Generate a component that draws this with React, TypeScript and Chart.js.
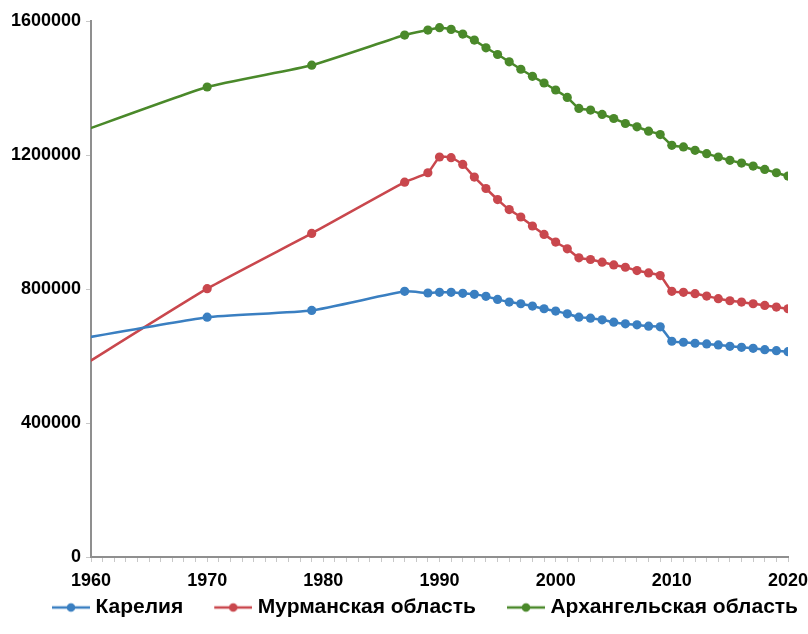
import React, { useEffect, useRef } from 'react';
import { Chart, registerables } from 'chart.js';

Chart.register(...registerables);

const years = [
  1959, 1970, 1979, 1987, 1989, 1990, 1991, 1992, 1993, 1994, 1995, 1996, 1997, 1998, 1999,
  2000, 2001, 2002, 2003, 2004, 2005, 2006, 2007, 2008, 2009, 2010, 2011, 2012, 2013, 2014,
  2015, 2016, 2017, 2018, 2019, 2020,
];

const karelia = [
  651000, 716000, 736000, 793000, 788000, 790000, 790000, 787000, 784000, 778000, 769000,
  761000, 756000, 749000, 741000, 734000, 726000, 716000, 713000, 708000, 701000, 696000,
  693000, 689000, 687000, 644000, 641000, 638000, 636000, 633000, 629000, 626000, 623000,
  619000, 616000, 613000,
];

const murmansk = [
  565000, 801000, 966000, 1119000, 1147000, 1194000, 1192000, 1172000, 1134000, 1100000,
  1067000, 1037000, 1015000, 988000, 963000, 940000, 920000, 893000, 888000, 880000, 872000,
  865000, 855000, 848000, 840000, 793000, 790000, 786000, 779000, 771000, 765000, 761000,
  756000, 751000, 746000, 741000,
];

const arkhangelsk = [
  1268000, 1403000, 1468000, 1558000, 1573000, 1580000, 1575000, 1561000, 1543000, 1520000,
  1500000, 1478000, 1456000, 1435000, 1415000, 1394000, 1372000, 1339000, 1334000, 1321000,
  1309000, 1294000, 1284000, 1271000, 1261000, 1229000, 1224000, 1214000, 1204000, 1194000,
  1184000, 1176000, 1167000, 1157000, 1147000, 1137000,
];

const seriesNames = ['Карелия', 'Мурманская область', 'Архангельская область'];
const seriesColors = ['#3A7FC1', '#C9474D', '#4A892A'];

const xMin = 1960;
const xMax = 2020;
const yMin = 0;
const yMax = 1600000;
const yStep = 400000;

const FONT = "'Liberation Sans', Arial, sans-serif";

function makeLegendIcon(color: string) {
  const c = document.createElement('canvas');
  c.width = 64;
  c.height = 12;
  const ctx = c.getContext('2d')!;
  ctx.strokeStyle = color;
  ctx.lineWidth = 2.5;
  ctx.beginPath();
  ctx.moveTo(26, 6);
  ctx.lineTo(64, 6);
  ctx.stroke();
  ctx.fillStyle = color;
  ctx.beginPath();
  ctx.arc(45, 6, 4.3, 0, Math.PI * 2);
  ctx.fill();
  return c;
}

export default function App() {
  const ref = useRef<HTMLCanvasElement | null>(null);

  useEffect(() => {
    document.body.style.margin = '0';
    const canvas = ref.current;
    if (!canvas) return;
    const icons = seriesColors.map(makeLegendIcon);
    const seriesData = [karelia, murmansk, arkhangelsk];

    const chart = new Chart(canvas, {
      type: 'line',
      data: {
        datasets: seriesData.map((vals, i) => ({
          label: seriesNames[i],
          data: years.map((y, j) => ({ x: y, y: vals[j] })),
          borderColor: seriesColors[i],
          backgroundColor: seriesColors[i],
          borderWidth: 2.5,
          pointRadius: 4.6,
          pointStyle: 'circle',
          pointBorderWidth: 0,
          tension: 0.15,
          fill: false,
        })),
      },
      options: {
        animation: false,
        responsive: false,
        maintainAspectRatio: false,
        layout: { padding: { left: 0, right: 0, top: 21, bottom: 6 } },
        scales: {
          x: {
            type: 'linear',
            min: xMin,
            max: xMax,
            afterFit: (s: any) => {
              s.height = 30;
              s.paddingLeft = 0;
              s.paddingRight = 20;
            },
            afterBuildTicks: (s: any) => {
              const t = [];
              for (let v = xMin; v <= xMax; v++) t.push({ value: v });
              s.ticks = t;
            },
            ticks: {
              autoSkip: false,
              maxRotation: 0,
              padding: 8,
              color: '#000',
              font: { family: FONT, size: 18, weight: 'bold' },
              callback: (v: any) => (Number(v) % 10 === 0 ? String(v) : ''),
            },
            grid: {
              drawOnChartArea: false,
              drawTicks: true,
              tickLength: 5,
              color: '#c8c8c8',
            },
            border: { color: '#8f8f8f', width: 2 },
          },
          y: {
            min: yMin,
            max: yMax,
            afterFit: (s: any) => {
              s.width = 91;
            },
            ticks: {
              stepSize: yStep,
              padding: 5,
              color: '#000',
              font: { family: FONT, size: 18, weight: 'bold' },
              callback: (v: any) => String(v),
            },
            grid: {
              drawOnChartArea: false,
              drawTicks: true,
              tickLength: 5,
              color: '#c8c8c8',
            },
            border: { color: '#8f8f8f', width: 2 },
          },
        },
        plugins: {
          tooltip: { enabled: false },
          legend: {
            position: 'bottom',
            align: 'end',
            labels: {
              usePointStyle: true,
              pointStyleWidth: 54,
              padding: 10,
              color: '#000',
              font: { family: FONT, size: 21, weight: 'bold' },
              generateLabels: (ch: any) =>
                (Chart.defaults.plugins.legend.labels.generateLabels as any)(ch).map((l: any, i: number) => ({
                  ...l,
                  pointStyle: icons[i],
                })),
            },
          },
        },
      } as any,
    });
    return () => chart.destroy();
  }, []);

  return (
    <div style={{ position: 'fixed', left: 0, top: 0, width: 808, height: 634, background: '#fff' }}>
      <canvas ref={ref} width={808} height={634} style={{ width: 808, height: 634 }} />
    </div>
  );
}
